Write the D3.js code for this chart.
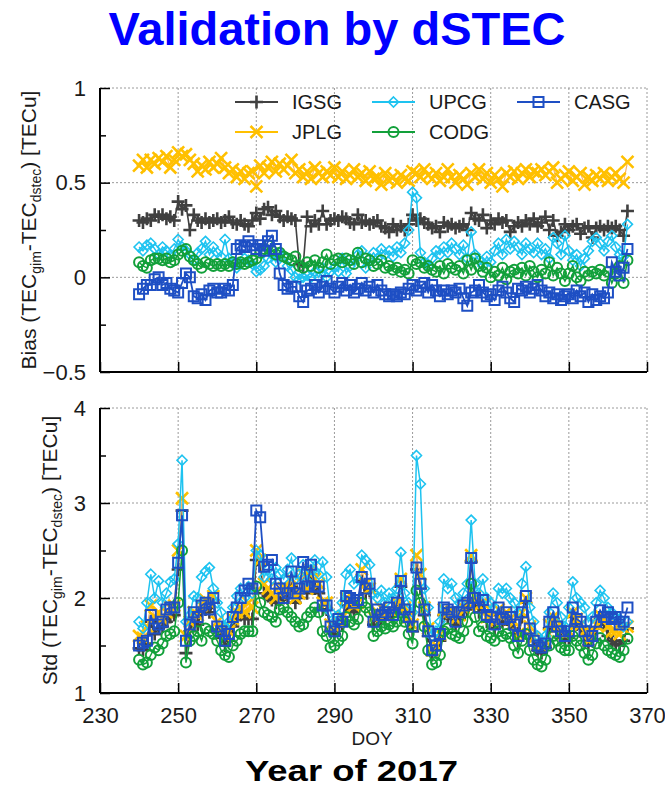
<!DOCTYPE html>
<html>
<head>
<meta charset="utf-8">
<script src="https://d3js.org/d3.v7.min.js"></script>
<style>
	body { margin: 0; background: #fff; }
	svg text { font-family: "Liberation Sans", Arial, sans-serif; }
</style>
</head>
<body>
<svg id="chart" width="665" height="790"></svg>
<script>
// Day of year, 240..365
var days = d3.range(240, 366);

var centers = ["IGSG", "JPLG", "UPCG", "CODG", "CASG"];

// --- BIAS (TECu) --- //
var biasIGSG = [
	0.30,0.29,0.31,0.30,0.33,0.32,0.33,0.31,0.32,0.30,
	0.40,0.36,0.38,0.25,0.33,0.30,0.29,0.31,0.29,0.30,
	0.31,0.29,0.30,0.32,0.29,0.28,0.30,0.28,0.27,0.30,
	0.34,0.31,0.36,0.37,0.33,0.35,0.32,0.30,0.32,0.31,
	0.30,0.07,0.06,0.32,0.27,0.30,0.28,0.35,0.28,0.30,
	0.31,0.30,0.32,0.31,0.29,0.28,0.33,0.29,0.30,0.28,
	0.29,0.30,0.27,0.26,0.24,0.28,0.25,0.27,0.25,0.28,
	0.33,0.30,0.31,0.29,0.28,0.26,0.27,0.24,0.29,0.27,
	0.28,0.26,0.27,0.28,0.25,0.34,0.31,0.30,0.33,0.26,
	0.30,0.28,0.31,0.29,0.30,0.24,0.27,0.29,0.27,0.30,
	0.28,0.31,0.27,0.29,0.32,0.25,0.30,0.22,0.24,0.28,
	0.25,0.27,0.28,0.23,0.26,0.27,0.21,0.26,0.27,0.25,
	0.27,0.26,0.27,0.25,0.22,0.35];
var biasJPLG = [
	0.59,0.62,0.58,0.62,0.60,0.63,0.61,0.64,0.58,0.62,
	0.66,0.64,0.65,0.62,0.60,0.56,0.59,0.57,0.61,0.58,
	0.60,0.63,0.58,0.55,0.57,0.53,0.56,0.52,0.55,0.56,
	0.48,0.59,0.55,0.58,0.61,0.56,0.60,0.57,0.59,0.62,
	0.55,0.57,0.53,0.56,0.52,0.58,0.55,0.53,0.56,0.54,
	0.58,0.53,0.56,0.52,0.54,0.57,0.53,0.55,0.51,0.56,
	0.52,0.53,0.49,0.55,0.51,0.53,0.50,0.54,0.52,0.51,
	0.56,0.55,0.53,0.57,0.54,0.52,0.55,0.51,0.53,0.57,
	0.53,0.50,0.54,0.52,0.49,0.55,0.53,0.57,0.52,0.55,
	0.50,0.54,0.52,0.48,0.55,0.53,0.56,0.52,0.55,0.57,
	0.53,0.56,0.55,0.57,0.54,0.56,0.58,0.50,0.52,0.54,
	0.56,0.51,0.53,0.55,0.49,0.53,0.51,0.54,0.52,0.55,
	0.51,0.53,0.55,0.52,0.50,0.61];
var biasUPCG = [
	0.16,0.14,0.17,0.18,0.15,0.12,0.16,0.14,0.12,0.15,
	0.20,0.16,0.14,0.12,0.09,0.13,0.15,0.19,0.12,0.16,
	0.13,0.11,0.20,0.10,0.08,0.05,0.07,0.10,0.09,0.07,
	0.03,0.04,0.06,0.10,0.12,0.08,0.13,0.11,0.06,0.04,
	0.00,-0.01,0.00,0.01,0.00,0.03,0.00,0.05,0.00,0.03,
	0.05,0.03,0.10,0.02,0.06,0.09,0.12,0.14,0.05,0.10,
	0.13,0.10,0.15,0.12,0.14,0.11,0.16,0.13,0.18,0.25,
	0.45,0.42,0.13,0.08,0.06,0.10,0.14,0.12,0.16,0.13,
	0.18,0.15,0.12,0.17,0.10,0.24,0.12,0.09,0.06,0.11,
	0.08,0.14,0.18,0.12,0.20,0.15,0.19,0.16,0.12,0.18,
	0.15,0.13,0.18,0.12,0.15,0.10,0.21,0.18,0.12,0.22,
	0.14,0.09,0.12,0.06,0.10,0.14,0.19,0.21,0.18,0.14,
	0.19,0.22,0.16,0.12,0.11,0.28];
var biasCODG = [
	0.08,0.06,0.05,0.09,0.10,0.10,0.09,0.10,0.08,0.09,
	0.12,0.14,0.15,0.11,0.09,0.07,0.05,0.08,0.07,0.06,
	0.07,0.06,0.07,0.06,0.08,0.07,0.08,0.07,0.08,0.09,
	0.10,0.13,0.15,0.17,0.14,0.12,0.13,0.11,0.10,0.09,
	0.11,0.06,0.05,0.08,0.06,0.09,0.05,0.08,0.12,0.07,
	0.09,0.10,0.08,0.10,0.09,0.07,0.13,0.08,0.10,0.09,
	0.06,0.07,0.09,0.05,0.06,0.04,0.05,0.03,0.04,0.02,
	0.09,0.07,0.08,0.05,0.06,0.04,0.03,0.06,0.02,0.07,
	0.05,0.04,0.06,0.02,0.09,0.04,0.10,0.06,0.03,0.05,
	0.00,0.03,0.01,0.05,-0.01,0.03,0.04,0.02,0.05,0.01,
	0.06,0.03,0.00,0.04,0.02,0.08,0.01,0.05,0.02,-0.02,
	0.02,0.06,0.00,-0.02,0.03,0.01,0.03,0.02,0.04,0.01,
	0.03,-0.03,0.02,0.06,-0.03,0.09];
var biasCASG = [
	-0.09,-0.06,-0.04,-0.04,-0.01,0.00,-0.04,-0.03,-0.06,-0.07,
	-0.08,-0.03,0.02,0.00,-0.10,-0.11,-0.09,-0.12,-0.07,-0.06,
	-0.08,-0.08,-0.06,-0.07,-0.04,0.15,0.17,0.16,0.19,0.17,
	0.15,0.17,0.14,0.19,0.22,0.15,0.02,-0.04,-0.06,-0.05,
	-0.05,-0.10,-0.13,-0.07,-0.06,-0.04,-0.08,-0.05,-0.02,-0.06,
	-0.08,-0.05,-0.03,-0.07,-0.04,-0.08,-0.06,-0.03,-0.07,-0.05,
	-0.08,-0.04,-0.07,-0.09,-0.10,-0.09,-0.10,-0.08,-0.09,-0.06,
	-0.04,-0.07,-0.05,-0.03,-0.08,-0.04,-0.07,-0.10,-0.07,-0.09,
	-0.07,-0.08,-0.06,-0.11,-0.15,-0.08,-0.07,-0.04,-0.08,-0.10,
	-0.09,-0.12,-0.07,-0.05,-0.08,-0.11,-0.13,-0.06,-0.07,-0.05,
	-0.08,-0.06,-0.04,-0.07,-0.10,-0.08,-0.11,-0.09,-0.12,-0.10,
	-0.09,-0.11,-0.07,-0.10,-0.08,-0.13,-0.09,-0.12,-0.10,-0.11,
	-0.08,0.08,0.03,0.01,0.05,0.15];

// --- STD (TECu) --- //
var stdIGSG = [
	1.47,1.45,1.52,1.75,1.62,1.68,1.70,1.75,1.80,1.82,
	2.30,2.92,1.42,1.65,1.75,1.72,1.85,1.88,1.85,1.95,
	1.65,1.58,1.50,1.55,1.70,1.78,1.82,1.78,1.78,1.78,
	2.40,2.35,2.05,2.02,1.98,1.95,1.98,2.00,2.00,2.12,
	1.95,2.00,2.20,2.05,2.25,2.10,2.05,1.88,1.88,1.65,
	1.62,1.70,1.72,1.92,1.88,1.85,1.90,2.18,2.05,2.08,
	1.72,1.80,1.78,1.78,1.82,1.80,1.88,2.12,1.85,1.75,
	1.65,2.30,2.10,1.82,1.60,1.40,1.45,1.55,1.82,1.80,
	1.78,1.72,1.78,1.85,1.88,2.38,1.95,1.85,1.92,1.75,
	1.75,1.68,1.82,1.75,1.78,1.72,1.68,1.55,1.80,1.95,
	1.62,1.50,1.45,1.42,1.48,1.68,1.78,1.65,1.58,1.55,
	1.58,1.80,1.72,1.68,1.60,1.50,1.55,1.68,1.78,1.72,
	1.60,1.55,1.52,1.50,1.55,1.68];
var stdJPLG = [
	1.60,1.58,1.70,1.92,1.80,1.85,1.78,1.85,1.90,1.92,
	2.50,3.05,1.60,1.75,1.85,1.82,1.92,1.98,1.95,2.02,
	1.75,1.68,1.60,1.65,1.78,1.85,1.90,1.85,1.95,1.90,
	2.50,2.40,2.15,2.10,2.05,2.00,2.05,2.10,2.08,2.20,
	2.00,2.05,2.25,2.10,2.30,2.20,2.15,1.95,1.95,1.72,
	1.70,1.75,1.80,2.00,1.95,1.92,1.95,2.30,2.15,2.10,
	1.80,1.85,1.90,1.82,1.88,1.85,1.95,2.20,1.90,1.80,
	1.72,2.45,2.25,1.90,1.68,1.45,1.50,1.62,1.88,1.85,
	1.85,1.78,1.82,1.90,1.95,2.45,2.02,1.92,1.95,1.80,
	1.80,1.75,1.88,1.80,1.85,1.78,1.75,1.62,1.85,2.00,
	1.70,1.58,1.52,1.50,1.55,1.72,1.80,1.70,1.65,1.62,
	1.65,1.85,1.78,1.72,1.65,1.55,1.62,1.72,1.82,1.78,
	1.70,1.65,1.65,1.62,1.68,1.70];
var stdUPCG = [
	1.75,1.68,1.95,2.25,2.00,2.18,1.95,2.05,2.17,2.20,
	2.57,3.45,1.75,1.82,2.02,2.00,2.22,2.28,2.32,2.10,
	1.95,1.85,1.70,1.75,1.90,2.02,2.10,2.00,2.12,2.05,
	2.50,2.45,2.22,2.30,2.20,2.32,2.25,2.20,2.30,2.42,
	2.20,2.25,2.35,2.18,2.30,2.40,2.25,2.38,2.22,1.85,
	1.75,1.82,1.95,2.25,2.30,2.15,2.20,2.45,2.40,2.35,
	2.05,2.00,2.08,1.95,2.05,2.00,2.10,2.48,2.05,1.95,
	1.85,3.50,3.20,2.10,1.90,1.60,1.65,1.75,2.20,2.10,
	2.15,2.00,1.95,2.05,2.15,2.82,2.15,2.05,2.20,2.00,
	1.95,1.90,2.10,2.05,2.10,2.00,1.95,1.85,2.15,2.33,
	1.90,1.75,1.60,1.55,1.60,1.85,2.05,1.95,1.80,1.70,
	1.90,2.17,2.00,1.95,1.90,1.75,1.80,1.95,2.08,2.00,
	1.90,1.85,1.80,1.78,1.70,1.75];
var stdCODG = [
	1.35,1.30,1.32,1.40,1.48,1.45,1.52,1.60,1.62,1.65,
	1.95,2.50,1.32,1.55,1.60,1.65,1.55,1.68,1.65,1.62,
	1.55,1.45,1.40,1.38,1.50,1.55,1.62,1.65,1.65,1.65,
	2.12,1.95,1.85,1.82,1.80,1.75,1.88,1.90,1.85,1.80,
	1.75,1.70,1.72,1.80,1.85,1.90,1.85,1.65,1.60,1.48,
	1.50,1.55,1.60,1.80,1.75,1.72,1.78,1.95,1.90,1.85,
	1.60,1.65,1.70,1.68,1.72,1.70,1.75,1.85,1.75,1.62,
	1.52,2.08,1.95,1.70,1.45,1.30,1.32,1.40,1.65,1.68,
	1.62,1.60,1.58,1.65,1.75,2.15,1.80,1.65,1.70,1.60,
	1.58,1.55,1.65,1.60,1.62,1.58,1.50,1.42,1.55,1.62,
	1.45,1.35,1.30,1.28,1.35,1.50,1.60,1.55,1.48,1.45,
	1.45,1.60,1.55,1.50,1.42,1.35,1.40,1.52,1.58,1.50,
	1.45,1.42,1.40,1.38,1.45,1.57];
var stdCASG = [
	1.50,1.53,1.55,1.82,1.68,1.72,1.75,1.88,1.90,1.90,
	2.37,2.87,1.55,1.72,1.85,1.80,1.92,1.95,1.88,2.00,
	1.70,1.65,1.55,1.62,1.80,1.90,2.00,2.08,2.15,2.10,
	2.92,2.85,2.33,2.35,2.40,2.15,2.10,2.00,2.05,2.28,
	2.05,2.10,2.38,2.12,2.35,2.12,2.12,1.92,1.92,1.70,
	1.65,1.78,1.75,2.02,2.00,1.95,1.98,2.22,2.10,2.15,
	1.75,1.88,1.82,1.85,1.90,1.82,1.95,2.18,1.88,1.80,
	1.70,2.32,2.15,1.88,1.65,1.45,1.50,1.62,1.90,1.88,
	1.85,1.75,1.85,1.92,1.95,2.42,2.00,1.90,1.98,1.82,
	1.80,1.72,1.90,1.78,1.85,1.80,1.72,1.60,1.85,2.02,
	1.68,1.55,1.50,1.48,1.52,1.75,1.85,1.70,1.65,1.60,
	1.65,1.90,1.78,1.75,1.65,1.55,1.60,1.75,1.87,1.80,
	1.85,1.78,1.80,1.72,1.75,1.90];

var xTicks = [230, 250, 270, 290, 310, 330, 350, 370];
var biasTicks = [-0.5, 0, 0.5, 1];
var stdTicks = [1, 2, 3, 4];

// Marker and line style per center
var styles = {
	IGSG: { color: "#404040", line: "#404040", marker: "plus",    size: 6.5, mw: 2.6, lw: 1.6 },
	JPLG: { color: "#FFC000", line: "#F7B46A", marker: "times",   size: 6,   mw: 2.6, lw: 1.2 },
	UPCG: { color: "#1EC3F0", line: "#1EC3F0", marker: "diamond", size: 5,   mw: 1.6, lw: 1.5 },
	CODG: { color: "#12A03A", line: "#12A03A", marker: "circle",  size: 5,   mw: 2,   lw: 1.5 },
	CASG: { color: "#1E4FC4", line: "#1E4FC4", marker: "square",  size: 5,   mw: 2,   lw: 1.8 }
};

var svg = d3.select("#chart"),
	left = 100,
	right = 647;

var x = d3.scaleLinear().domain([230, 370]).range([left, right]);

// Path string for each marker shape, centred on 0,0
function markerPath(type, s) {
	if (type === "plus") return "M" + (-s) + ",0H" + s + "M0," + (-s) + "V" + s;
	if (type === "times") return "M" + (-s) + "," + (-s) + "L" + s + "," + s + "M" + (-s) + "," + s + "L" + s + "," + (-s);
	if (type === "diamond") return "M0," + (-s) + "L" + s + ",0L0," + s + "L" + (-s) + ",0Z";
	if (type === "square") return "M" + (-s) + "," + (-s) + "H" + s + "V" + s + "H" + (-s) + "Z";
	return "M" + s + ",0A" + s + "," + s + " 0 1,1 " + (-s) + ",0A" + s + "," + s + " 0 1,1 " + s + ",0Z";
}

// --- TITLE --- //
svg.append("text")
	.attr("x", 337)
	.attr("y", 45)
	.attr("text-anchor", "middle")
	.attr("font-size", 47)
	.attr("font-weight", "bold")
	.attr("fill", "#0000FF")
	.text("Validation by dSTEC");

// Draws one panel: grid, axes, series
function drawPanel(opts) {
	var y = d3.scaleLinear().domain(opts.domain).range([opts.bottom, opts.top]);
	var g = svg.append("g");

	// Grid (dotted), including top and right border
	g.selectAll(".vgrid").data(xTicks.slice(1)).enter().append("line")
		.attr("x1", function(d) { return x(d); }).attr("x2", function(d) { return x(d); })
		.attr("y1", opts.top).attr("y2", opts.bottom)
		.attr("stroke", "#9a9a9a").attr("stroke-width", 1).attr("stroke-dasharray", "2,2");
	g.selectAll(".hgrid").data(opts.ticks.slice(1)).enter().append("line")
		.attr("x1", left).attr("x2", right)
		.attr("y1", function(d) { return y(d); }).attr("y2", function(d) { return y(d); })
		.attr("stroke", "#9a9a9a").attr("stroke-width", 1).attr("stroke-dasharray", "2,2");

	// Series
	var line = d3.line()
		.x(function(d) { return x(d[0]); })
		.y(function(d) { return y(d[1]); });

	opts.series.forEach(function(s, k) {
		var st = styles[centers[k]];
		var pts = days.map(function(d, i) { return [d, s[i]]; });
		g.append("path")
			.datum(pts)
			.attr("d", line)
			.attr("fill", "none")
			.attr("stroke", st.line)
			.attr("stroke-width", st.lw);
		g.selectAll(".m" + k).data(pts).enter().append("path")
			.attr("transform", function(d) { return "translate(" + x(d[0]) + "," + y(d[1]) + ")"; })
			.attr("d", markerPath(st.marker, st.size))
			.attr("fill", "none")
			.attr("stroke", st.color)
			.attr("stroke-width", st.mw);
	});

	// Axes, ticks pointing inward
	var yAxis = d3.axisLeft(y).tickValues(opts.ticks).tickSize(-10).tickPadding(14)
		.tickFormat(function(d) { return d3.format("")(d); });
	var ya = g.append("g").attr("transform", "translate(" + left + ",0)").call(yAxis);
	var minor = d3.axisLeft(y).tickValues(opts.minor).tickSize(-6).tickFormat("");
	var ym = g.append("g").attr("transform", "translate(" + left + ",0)").call(minor);
	ym.select(".domain").remove();

	var xAxis = d3.axisBottom(x).tickValues(xTicks).tickSize(-10).tickPadding(14)
		.tickFormat(opts.xLabels ? d3.format("d") : "");
	var xa = g.append("g").attr("transform", "translate(0," + opts.bottom + ")").call(xAxis);

	[ya, ym, xa].forEach(function(a) {
		a.select(".domain").attr("stroke", "#000").attr("stroke-width", 2).attr("d",
			a === xa ? "M" + left + ",0H" + right : "M0," + opts.top + "V" + opts.bottom);
		a.selectAll(".tick line").attr("stroke", "#000").attr("stroke-width", 1.5);
		a.selectAll(".tick text").attr("font-size", 22).attr("fill", "#1a1a1a")
			.attr("font-family", "Liberation Sans, Arial, sans-serif");
	});

	// Y label with subscripts
	var lab = svg.append("text")
		.attr("transform", "translate(" + opts.labelX + "," + ((opts.top + opts.bottom) / 2) + ") rotate(-90)")
		.attr("text-anchor", "middle")
		.attr("font-size", 21)
		.attr("fill", "#1a1a1a");
	lab.append("tspan").text(opts.labelStart + " (TEC");
	lab.append("tspan").attr("font-size", 14).attr("dy", 5).text("gim");
	lab.append("tspan").attr("dy", -5).text("-TEC");
	lab.append("tspan").attr("font-size", 14).attr("dy", 5).text("dstec");
	lab.append("tspan").attr("dy", -5).text(") [TECu]");

	return y;
}

drawPanel({
	top: 88, bottom: 372, domain: [-0.5, 1],
	ticks: biasTicks, minor: [-0.25, 0.25, 0.75],
	series: [biasIGSG, biasJPLG, biasUPCG, biasCODG, biasCASG],
	xLabels: false, labelX: 36, labelStart: "Bias"
});

drawPanel({
	top: 408, bottom: 693, domain: [1, 4],
	ticks: stdTicks, minor: [1.5, 2.5, 3.5],
	series: [stdIGSG, stdJPLG, stdUPCG, stdCODG, stdCASG],
	xLabels: true, labelX: 57, labelStart: "Std"
});

// --- LEGEND --- //
var legendPos = [
	{ name: "IGSG", x: 235, y: 102 },
	{ name: "UPCG", x: 372, y: 102 },
	{ name: "CASG", x: 517, y: 102 },
	{ name: "JPLG", x: 235, y: 132 },
	{ name: "CODG", x: 372, y: 132 }
];
var leg = svg.selectAll(".legend").data(legendPos).enter().append("g")
	.attr("class", "legend")
	.attr("transform", function(d) { return "translate(" + d.x + "," + d.y + ")"; });
leg.append("line")
	.attr("x1", 0).attr("x2", 43)
	.attr("stroke", function(d) { return styles[d.name].color; })
	.attr("stroke-width", 2);
leg.append("path")
	.attr("transform", "translate(21.5,0)")
	.attr("d", function(d) { return markerPath(styles[d.name].marker, styles[d.name].size); })
	.attr("fill", "none")
	.attr("stroke", function(d) { return styles[d.name].color; })
	.attr("stroke-width", function(d) { return styles[d.name].mw; });
leg.append("text")
	.attr("x", 57)
	.attr("dy", "0.36em")
	.attr("font-size", 20)
	.attr("fill", "#1a1a1a")
	.text(function(d) { return d.name; });

// --- BOTTOM LABELS --- //
svg.append("text")
	.attr("x", 372)
	.attr("y", 745)
	.attr("text-anchor", "middle")
	.attr("font-size", 19)
	.attr("fill", "#1a1a1a")
	.text("DOY");

// Condensed bold caption (squeezed to the reference width)
svg.append("text")
	.attr("x", 245)
	.attr("y", 781)
	.attr("textLength", 213)
	.attr("lengthAdjust", "spacingAndGlyphs")
	.attr("font-size", 29)
	.attr("font-weight", "bold")
	.attr("font-family", "Open Sans, sans-serif")
	.attr("fill", "#000")
	.text("Year of 2017");
</script>
</body>
</html>
